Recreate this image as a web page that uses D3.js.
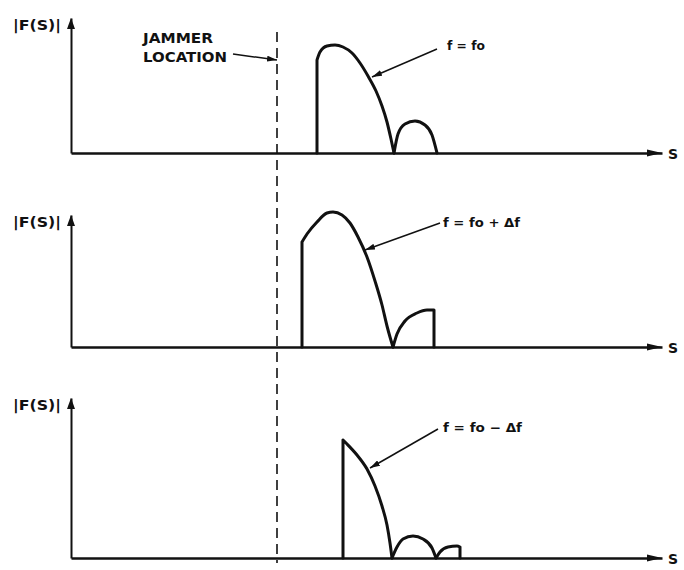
<!DOCTYPE html>
<html>
<head>
<meta charset="utf-8">
<script src="https://cdn.jsdelivr.net/npm/d3@7"></script>
<style>
  body { margin: 0; background: #fff; }
  svg { display: block; }
  text { font-family: "DejaVu Sans", "Liberation Sans", sans-serif; font-weight: bold; fill: #111; }
</style>
</head>
<body>
<div id="d3"></div>
<script>
// values: s along the axis, |F(S)| above each baseline
const panelLabels = ['f = fo', 'f = fo + \u0394f', 'f = fo \u2212 \u0394f'];
const yLabel = '|F(S)|';
const xLabel = 'S';
const jammerS = 206;

// one array of lobes per frequency, each lobe a list of [s, |F|]
const lobesFo = [
    [[246,0],[246,93],[249,101],[256,107],[264,108],[272,106],[281,100],[289,90],[297,77],[305,62],[311,47],[316,31],[320,14],[323,0]],
    [[323,0],[327,19],[334,29],[344,32],[354,28],[361,18],[366,0]]
];
const lobesPlus = [
    [[231,0],[231,105],[236,113],[246,125],[256,134],[262,135],[271,132],[279,124],[287,110],[296,90],[304,66],[311,42],[316,21],[319,10],[322,0]],
    [[322,0],[326,13],[334,26],[346,34],[356,37],[363,37],[363,0]]
];
const lobesMinus = [
    [[272,0],[272,118],[276,114],[286,103],[296,89],[304,72],[311,52],[316,33],[319,15],[321,0]],
    [[321,0],[326,11],[332,19],[342,22],[352,19],[361,10],[365,0]],
    [[365,0],[369,6],[377,11],[386,12],[389,11],[389,0]]
];
// annotation arrows: [from s, from |F|, to s, to |F|] and label anchor [s, |F|]
const pointers = [[366,104,301,76],[369,124,294,97],[367,129,299,90]];
const labelAt = [[376,103],[372,120],[372,126]];
const labelWidths = [38, 77, 79];

const W = 684, H = 570;
const panels = [
    {base: 153, top: 18, lobes: lobesFo},
    {base: 347, top: 215, lobes: lobesPlus},
    {base: 558, top: 398, lobes: lobesMinus}
];

const svg = d3.select('#d3').append('svg').attr('width', W).attr('height', H);

const defs = svg.append('defs');
defs.append('marker').attr('id', 'tip').attr('viewBox', '0 0 10 6')
    .attr('refX', 10).attr('refY', 3).attr('markerWidth', 10).attr('markerHeight', 6)
    .attr('markerUnits', 'userSpaceOnUse').attr('orient', 'auto')
    .append('path').attr('d', 'M0,0L10,3L0,6Z').attr('fill', '#111');

const x = d3.scaleLinear().domain([0, 591]).range([71, 662]);

// split a lobe into its straight vertical edges and the smooth part
function splitLobe(l) {
    let pts = l.slice();
    const verts = [];
    if (pts[0][0] === pts[1][0]) { verts.push([pts[0], pts[1]]); pts = pts.slice(1); }
    const n = pts.length;
    if (pts[n - 1][0] === pts[n - 2][0]) { verts.push([pts[n - 2], pts[n - 1]]); pts = pts.slice(0, n - 1); }
    return {pts: pts, verts: verts};
}

panels.forEach((p, i) => {
    const y = d3.scaleLinear().domain([0, p.base - p.top]).range([p.base, p.top]);
    const g = svg.append('g');

    // baseline via axis with no ticks
    g.append('g').attr('transform', `translate(0, ${p.base})`)
        .call(d3.axisBottom(x).ticks(0).tickSizeOuter(0))
        .call(a => a.select('.domain').attr('stroke', '#111').attr('stroke-width', 2.5));
    g.append('g').attr('transform', `translate(${x(0)}, 0)`)
        .call(d3.axisLeft(y).ticks(0).tickSizeOuter(0))
        .call(a => a.select('.domain').attr('stroke', '#111').attr('stroke-width', 2));

    // arrow heads on axes
    const xe = x.range()[1];
    g.append('path').attr('d', `M${xe - 15},${p.base - 3.5}L${xe},${p.base}L${xe - 15},${p.base + 3.5}Z`).attr('fill', '#111');
    const ye = y.range()[1];
    g.append('path').attr('d', `M${x(0) - 4},${ye + 11}L${x(0)},${ye}L${x(0) + 4},${ye + 11}Z`).attr('fill', '#111');

    g.append('text').attr('x', 13).attr('y', ye + 12).attr('font-size', 14)
        .attr('textLength', 48).attr('lengthAdjust', 'spacingAndGlyphs').text(yLabel);
    g.append('text').attr('x', xe + 6).attr('y', p.base + 5.5).attr('font-size', 14).text(xLabel);

    // lobes
    const smooth = d3.line().x(d => x(d[0])).y(d => y(d[1])).curve(d3.curveMonotoneX);
    const straight = d3.line().x(d => x(d[0])).y(d => y(d[1]));
    p.lobes.forEach(l => {
        const parts = splitLobe(l);
        let d = smooth(parts.pts);
        parts.verts.forEach(v => { d += straight(v); });
        g.append('path').attr('d', d).attr('fill', 'none').attr('stroke', '#111')
            .attr('stroke-width', 3).attr('stroke-linejoin', 'round').attr('stroke-linecap', 'round');
    });

    // pointer + label
    const pt = pointers[i];
    g.append('line').attr('x1', x(pt[0])).attr('y1', y(pt[1])).attr('x2', x(pt[2])).attr('y2', y(pt[3]))
        .attr('stroke', '#111').attr('stroke-width', 1.5).attr('marker-end', 'url(#tip)');
    g.append('text').attr('x', x(labelAt[i][0])).attr('y', y(labelAt[i][1])).attr('font-size', 12)
        .attr('textLength', labelWidths[i]).attr('lengthAdjust', 'spacingAndGlyphs').text(panelLabels[i]);
});

// jammer location
svg.append('line').attr('x1', x(jammerS)).attr('x2', x(jammerS)).attr('y1', 32).attr('y2', 563)
    .attr('stroke', '#111').attr('stroke-width', 1.6).attr('stroke-dasharray', '10,6');
svg.append('text').attr('x', 143).attr('y', 43).attr('font-size', 14)
    .attr('textLength', 70).attr('lengthAdjust', 'spacingAndGlyphs').text('JAMMER');
svg.append('text').attr('x', 143).attr('y', 62).attr('font-size', 14)
    .attr('textLength', 84).attr('lengthAdjust', 'spacingAndGlyphs').text('LOCATION');
svg.append('line').attr('x1', 233).attr('y1', 54).attr('x2', x(jammerS)).attr('y2', 60)
    .attr('stroke', '#111').attr('stroke-width', 1.5).attr('marker-end', 'url(#tip)');
</script>
</body>
</html>
